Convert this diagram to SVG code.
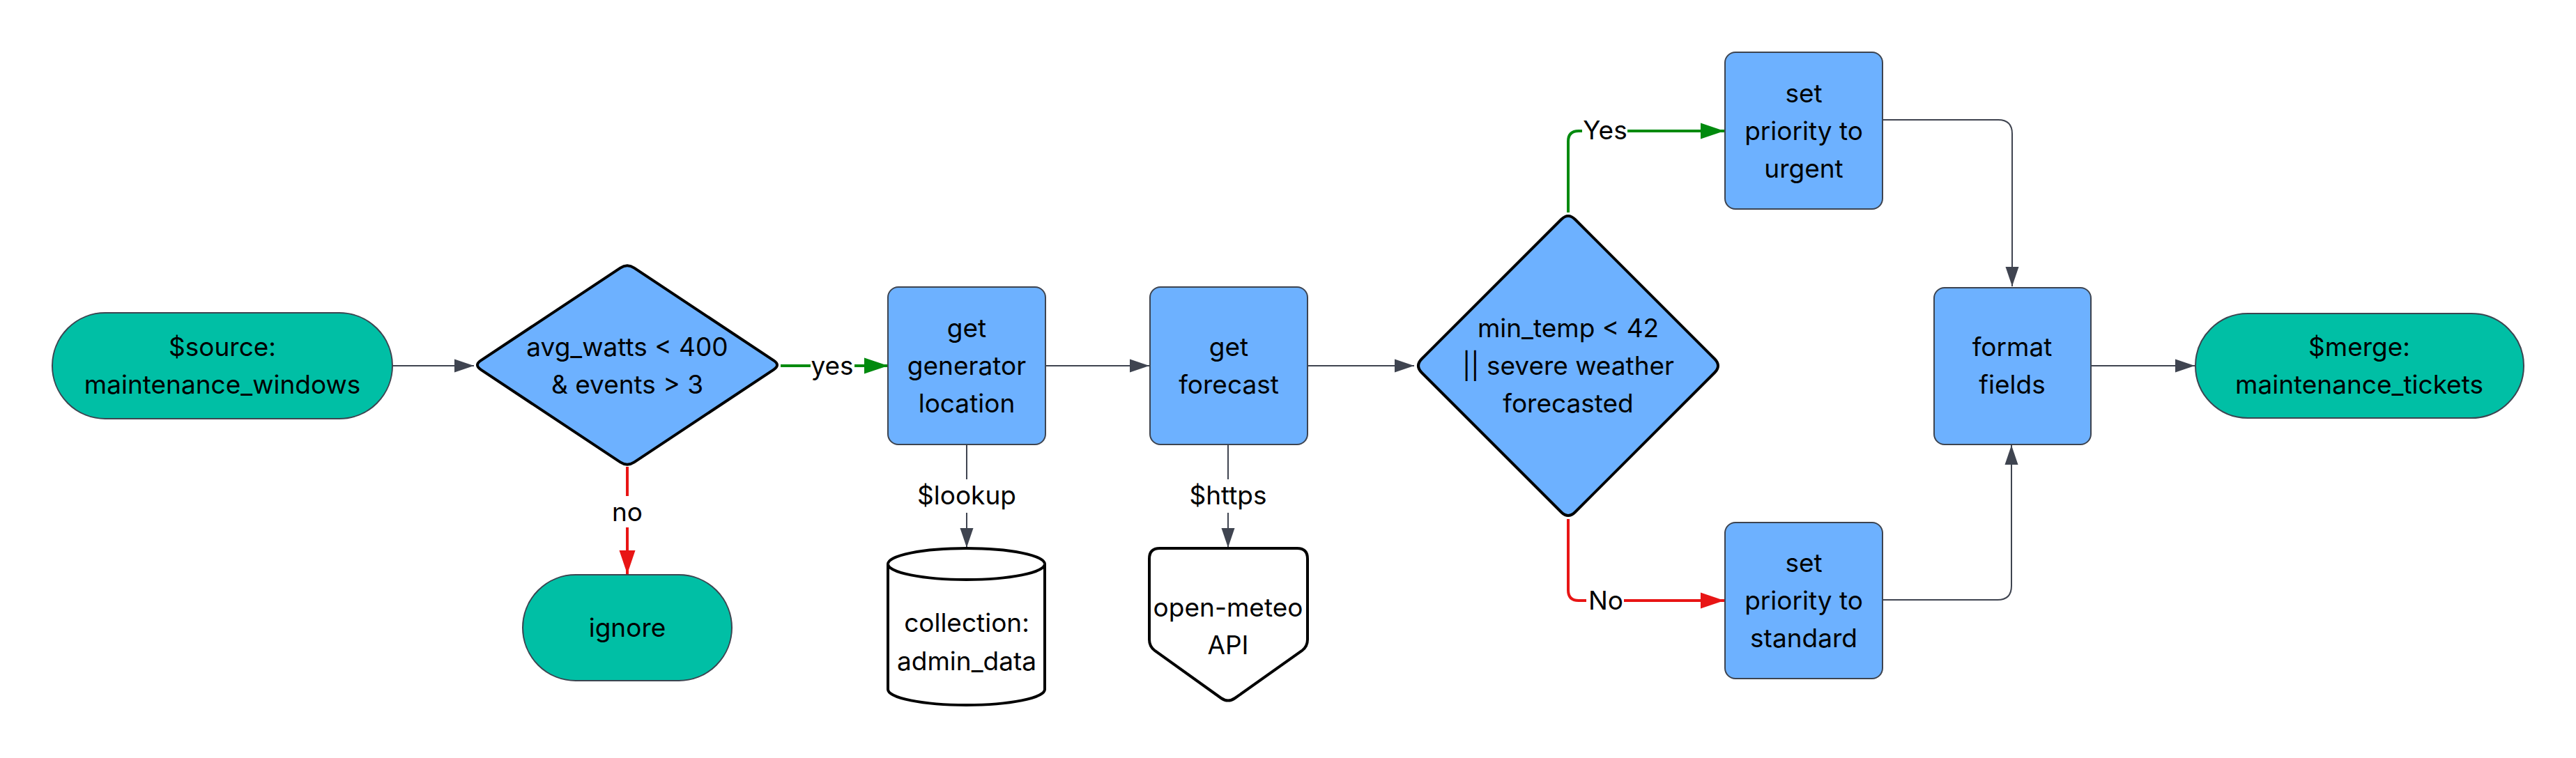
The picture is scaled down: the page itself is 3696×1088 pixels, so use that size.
<svg xmlns="http://www.w3.org/2000/svg" width="3696" height="1088" viewBox="0 0 3696 1088">
<style>
text{font-family:Inter,"Liberation Sans",sans-serif;font-size:37px;fill:#000;text-anchor:middle}
.term{fill:#00BFA5;stroke:#3d4450;stroke-width:2}
.proc{fill:#6DB1FF;stroke:#3d4450;stroke-width:2}
.dec{fill:#6DB1FF;stroke:#000;stroke-width:4}
.store{fill:#fff;stroke:#000;stroke-width:4}
.e{fill:none;stroke:#3f4450;stroke-width:2}
.g{fill:none;stroke:#008A0E;stroke-width:4}
.r{fill:none;stroke:#E81515;stroke-width:4}
</style>
<defs>
<marker id="ag" markerUnits="userSpaceOnUse" markerWidth="28" markerHeight="20" refX="28" refY="10" orient="auto"><path d="M0,0.5 L28,10 L0,19.5 Z" fill="#3f4450"/></marker>
<marker id="agr" markerUnits="userSpaceOnUse" markerWidth="34" markerHeight="24" refX="34" refY="12" orient="auto"><path d="M0,0.5 L34,12 L0,23.5 Z" fill="#008A0E"/></marker>
<marker id="arr" markerUnits="userSpaceOnUse" markerWidth="34" markerHeight="24" refX="34" refY="12" orient="auto"><path d="M0,0.5 L34,12 L0,23.5 Z" fill="#E81515"/></marker>
</defs>
<g id="connectors">
<path class="e" d="M563,525 L680,525" marker-end="url(#ag)"/>
<path class="g" d="M1120,525 L1163,525"/>
<path class="g" d="M1226,525 L1274,525" marker-end="url(#agr)"/>
<text x="1194" y="538">yes</text>
<path class="r" d="M900,670 L900,712"/>
<path class="r" d="M900,757 L900,824" marker-end="url(#arr)"/>
<text x="900" y="748">no</text>
<path class="e" d="M1500,525 L1649,525" marker-end="url(#ag)"/>
<path class="e" d="M1387,638 L1387,688"/>
<path class="e" d="M1387,736 L1387,786" marker-end="url(#ag)"/>
<text x="1387" y="724">$lookup</text>
<path class="e" d="M1762,638 L1762,688"/>
<path class="e" d="M1762,736 L1762,786" marker-end="url(#ag)"/>
<text x="1762" y="724">$https</text>
<path class="e" d="M1876,525 L2029,525" marker-end="url(#ag)"/>
<path class="g" d="M2250,305 L2250,203 Q2250,188 2265,188 L2270,188"/>
<path class="g" d="M2335,188 L2474,188" marker-end="url(#agr)"/>
<text x="2303" y="200">Yes</text>
<path class="r" d="M2250,745 L2250,847 Q2250,862 2265,862 L2276,862"/>
<path class="r" d="M2330,862 L2474,862" marker-end="url(#arr)"/>
<text x="2304" y="875">No</text>
<path class="e" d="M2701,172 L2867,172 Q2887,172 2887,192 L2887,411" marker-end="url(#ag)"/>
<path class="e" d="M2701,861 L2866,861 Q2886,861 2886,841 L2886,639" marker-end="url(#ag)"/>
<path class="e" d="M3000,525 L3149,525" marker-end="url(#ag)"/>
</g>
<g id="source">
<rect class="term" x="75" y="449" width="488" height="152" rx="76"/>
<text x="319" y="511">$source:</text>
<text x="319" y="565">maintenance_windows</text>
</g>
<g id="check">
<path class="dec" d="M890,384.6 Q900,378 910,384.6 L1110,517.4 Q1120,524 1110,530.6 L910,663.4 Q900,670 890,663.4 L690,530.6 Q680,524 690,517.4 Z"/>
<text x="900" y="511">avg_watts &lt; 400</text>
<text x="900" y="565">&amp; events &gt; 3</text>
</g>
<g id="ignore">
<rect class="term" x="750" y="825" width="300" height="152" rx="76"/>
<text x="900" y="914">ignore</text>
</g>
<g id="getLocation">
<rect class="proc" x="1274" y="412" width="226" height="226" rx="15"/>
<text x="1387" y="484">get</text>
<text x="1387" y="538">generator</text>
<text x="1387" y="592">location</text>
</g>
<g id="adminData">
<path class="store" d="M1274,809.5 A112.5,22.5 0 0 1 1499,809.5 L1499,989.5 A112.5,22.5 0 0 1 1274,989.5 Z"/>
<path class="store" d="M1274,809.5 A112.5,22.5 0 0 0 1499,809.5" fill="none"/>
<text x="1387" y="907">collection:</text>
<text x="1387" y="962">admin_data</text>
</g>
<g id="getForecast">
<rect class="proc" x="1650" y="412" width="226" height="226" rx="15"/>
<text x="1763" y="511">get</text>
<text x="1763" y="565">forecast</text>
</g>
<g id="api">
<path class="store" d="M1664,787 L1861,787 Q1876,787 1876,802 L1876,918 Q1876,928 1868,934 L1772,1002 Q1762,1009 1752,1002 L1657,934 Q1649,928 1649,918 L1649,802 Q1649,787 1664,787 Z"/>
<text x="1762" y="885">open-meteo</text>
<text x="1762" y="939">API</text>
</g>
<g id="weatherCheck">
<path class="dec" d="M2240,315 Q2250,305 2260,315 L2460,515 Q2470,525 2460,535 L2260,735 Q2250,745 2240,735 L2040,535 Q2030,525 2040,515 Z"/>
<text x="2250" y="484">min_temp &lt; 42</text>
<text x="2250" y="538">|| severe weather</text>
<text x="2250" y="592">forecasted</text>
</g>
<g id="urgent">
<rect class="proc" x="2475" y="75" width="226" height="225" rx="15"/>
<text x="2588" y="147">set</text>
<text x="2588" y="201">priority to</text>
<text x="2588" y="255">urgent</text>
</g>
<g id="standard">
<rect class="proc" x="2475" y="750" width="226" height="224" rx="15"/>
<text x="2588" y="821">set</text>
<text x="2588" y="875">priority to</text>
<text x="2588" y="929">standard</text>
</g>
<g id="format">
<rect class="proc" x="2775" y="413" width="225" height="225" rx="15"/>
<text x="2887" y="511">format</text>
<text x="2887" y="565">fields</text>
</g>
<g id="merge">
<rect class="term" x="3150" y="450" width="471" height="150" rx="75"/>
<text x="3385" y="511">$merge:</text>
<text x="3385" y="565">maintenance_tickets</text>
</g>
</svg>
